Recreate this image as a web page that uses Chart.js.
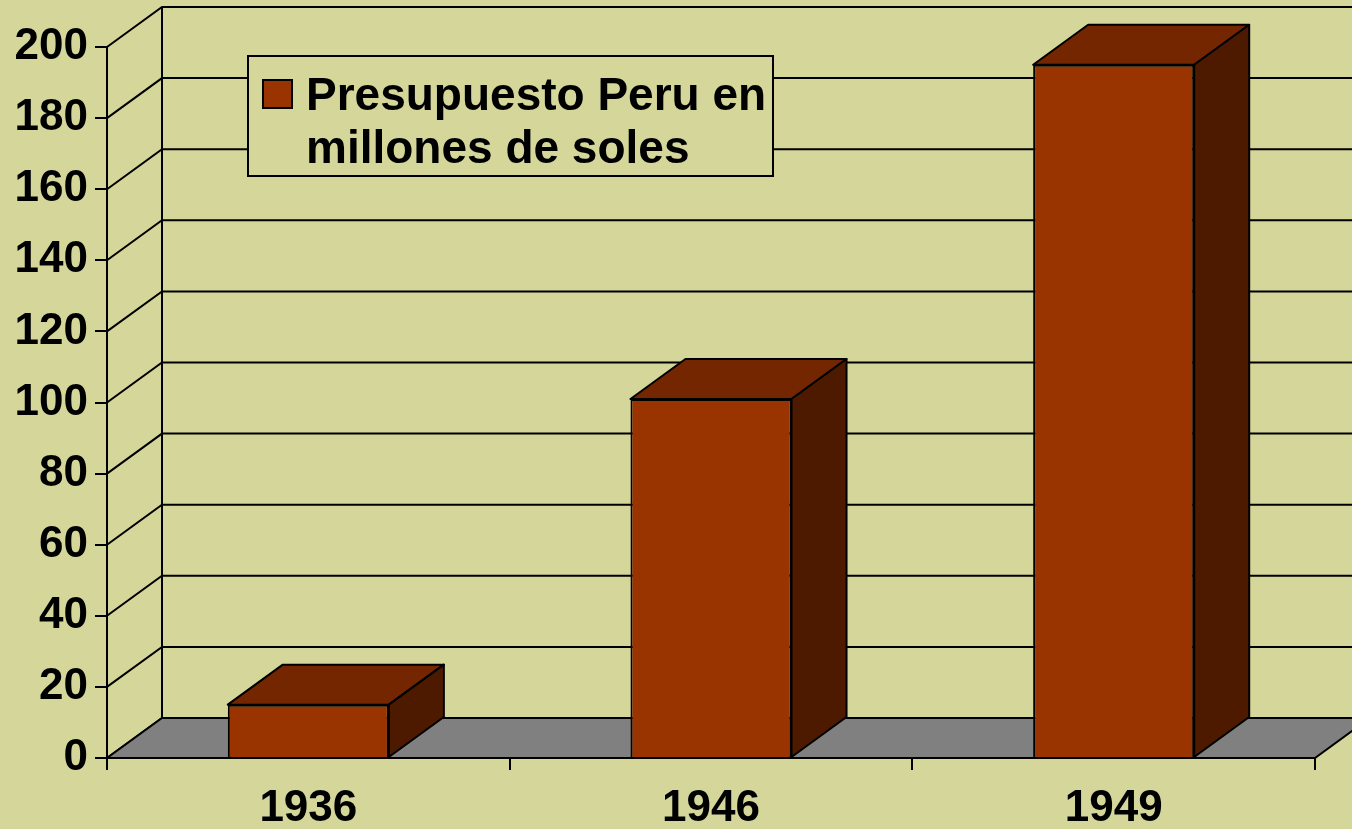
<!DOCTYPE html>
<html>
<head>
<meta charset="utf-8">
<script src="https://cdn.jsdelivr.net/npm/chart.js@4"></script>
<style>
  html, body { margin: 0; padding: 0; background: #d4d69a; }
  #wrap { width: 1352px; height: 829px; }
</style>
</head>
<body>
<div id="wrap"><canvas id="budgetChart" width="1352" height="829"></canvas></div>
<script>
// Data
const years = ['1936', '1946', '1949'];
const budget = [15, 101, 195];
const seriesLabel = 'Presupuesto Peru en millones de soles';
const legendLines = ['Presupuesto Peru en', 'millones de soles'];
const yTicks = [0, 20, 40, 60, 80, 100, 120, 140, 160, 180, 200];

// 3D look
const depthX = 55, depthY = -40;
const frontColor = '#993300', topColor = '#732600', sideColor = '#4d1a00';
const floorColor = '#808080';
const font = 'Liberation Sans, Arial, sans-serif';

const wallPlugin = {
    id: 'wall3d',
    beforeDatasetsDraw(chart) {
        const ctx = chart.ctx;
        const a = chart.chartArea;
        const y = chart.scales.y;
        ctx.save();
        ctx.strokeStyle = '#000';
        ctx.lineWidth = 2;
        // gridlines on back wall + side wall
        yTicks.forEach(v => {
            const py = y.getPixelForValue(v);
            ctx.beginPath();
            ctx.moveTo(a.left, py);
            ctx.lineTo(a.left + depthX, py + depthY);
            ctx.lineTo(a.right + depthX, py + depthY);
            ctx.stroke();
        });
        // back wall corner
        ctx.beginPath();
        ctx.moveTo(a.left + depthX, y.getPixelForValue(200) + depthY);
        ctx.lineTo(a.left + depthX, y.getPixelForValue(0) + depthY);
        ctx.stroke();
        // floor
        const b = y.getPixelForValue(0);
        ctx.beginPath();
        ctx.moveTo(a.left, b);
        ctx.lineTo(a.right, b);
        ctx.lineTo(a.right + depthX, b + depthY);
        ctx.lineTo(a.left + depthX, b + depthY);
        ctx.closePath();
        ctx.fillStyle = floorColor;
        ctx.fill();
        ctx.stroke();
        ctx.restore();
    },
    afterDatasetsDraw(chart) {
        const ctx = chart.ctx;
        ctx.save();
        ctx.strokeStyle = '#000';
        ctx.lineWidth = 2;
        ctx.lineJoin = 'round';
        chart.getDatasetMeta(0).data.forEach(bar => {
            const l = bar.x - bar.width / 2, r = bar.x + bar.width / 2;
            const t = bar.y, base = bar.base;
            // top face
            ctx.beginPath();
            ctx.moveTo(l, t);
            ctx.lineTo(l + depthX, t + depthY);
            ctx.lineTo(r + depthX, t + depthY);
            ctx.lineTo(r, t);
            ctx.closePath();
            ctx.fillStyle = topColor;
            ctx.fill();
            ctx.stroke();
            // side face
            ctx.beginPath();
            ctx.moveTo(r, t);
            ctx.lineTo(r + depthX, t + depthY);
            ctx.lineTo(r + depthX, base + depthY);
            ctx.lineTo(r, base);
            ctx.closePath();
            ctx.fillStyle = sideColor;
            ctx.fill();
            ctx.stroke();
        });
        ctx.restore();
    },
    afterDraw(chart) {
        // legend box
        const ctx = chart.ctx;
        ctx.save();
        ctx.fillStyle = '#d4d69a';
        ctx.fillRect(248, 56, 525, 120);
        ctx.strokeStyle = '#000';
        ctx.lineWidth = 2;
        ctx.strokeRect(248, 56, 525, 120);
        ctx.fillStyle = frontColor;
        ctx.fillRect(263, 80, 29, 28);
        ctx.strokeRect(263, 80, 29, 28);
        ctx.fillStyle = '#000';
        ctx.font = 'bold 46px ' + font;
        ctx.textBaseline = 'alphabetic';
        ctx.fillText(legendLines[0], 306, 110);
        ctx.fillText(legendLines[1], 306, 163);
        ctx.restore();
    }
};

const ctx = document.getElementById('budgetChart').getContext('2d');
const budgetChart = new Chart(ctx, {
    type: 'bar',
    data: {
        labels: years,
        datasets: [{
            label: seriesLabel,
            data: budget,
            backgroundColor: frontColor,
            borderColor: '#000',
            borderWidth: 2,
            categoryPercentage: 1,
            barPercentage: 0.4
        }]
    },
    options: {
        responsive: false,
        animation: false,
        layout: { padding: { left: 0, top: 47, right: 37, bottom: 0 } },
        plugins: {
            legend: { display: false },
            tooltip: { enabled: false }
        },
        scales: {
            x: {
                offset: true,
                grid: { offset: true, drawOnChartArea: false, tickLength: 12, color: '#000', lineWidth: 2 },
                border: { display: true, color: '#000', width: 2 },
                ticks: { color: '#000', padding: 12, font: { family: font, size: 44, weight: 'bold' } },
                afterFit(scale) { scale.height = 71; }
            },
            y: {
                min: 0,
                max: 200,
                ticks: { stepSize: 20, color: '#000', padding: 7, font: { family: font, size: 44, weight: 'bold' } },
                grid: { drawOnChartArea: false, tickLength: 12, color: '#000', lineWidth: 2 },
                border: { display: true, color: '#000', width: 2 },
                afterFit(scale) { scale.width = 107; }
            }
        }
    },
    plugins: [wallPlugin]
});
</script>
</body>
</html>
